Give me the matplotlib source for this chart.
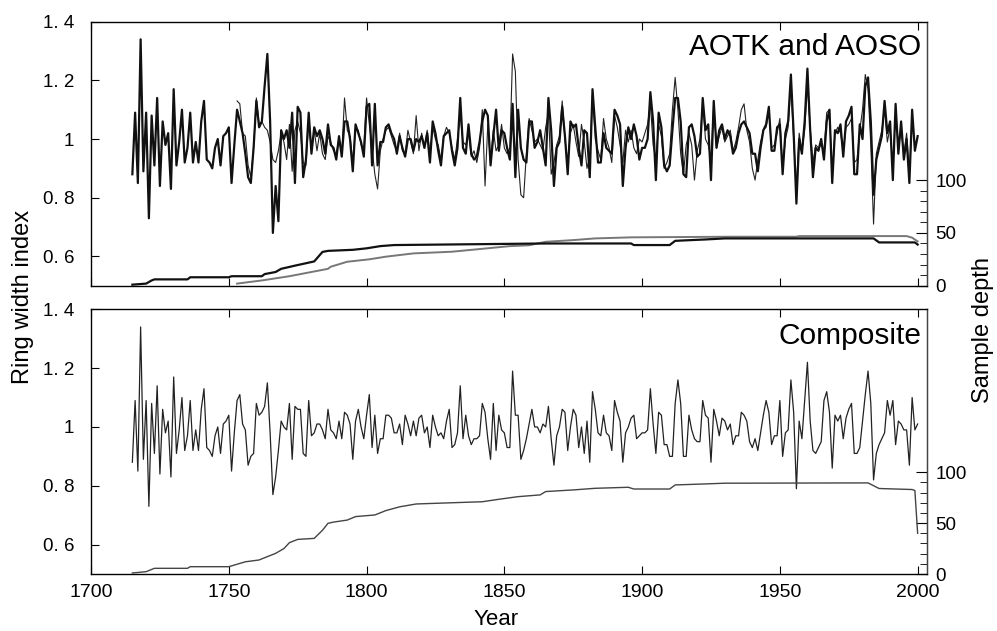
import numpy as np
import matplotlib.pyplot as plt
from matplotlib.ticker import FixedLocator

# ---- ring width index (1715-2000) ----
first_year = 1715
composite = [
    0.88, 1.09, 0.85, 1.34, 0.89, 1.09, 0.73, 1.08, 0.91, 1.14,
    0.84, 1.06, 0.98, 1.02, 0.83, 1.17, 0.91, 0.99, 1.10, 0.92,
    0.97, 1.09, 0.92, 0.99, 0.92, 1.06, 1.13, 0.93, 0.92, 0.90,
    0.97, 1.00, 0.91, 1.01, 1.02, 1.04, 0.85, 0.98, 1.09, 1.11,
    1.01, 0.99, 0.87, 0.90, 0.91, 1.08, 1.04, 1.05, 1.07, 1.15,
    0.98, 0.77, 0.83, 0.92, 1.02, 1.00, 0.99, 1.08, 0.89, 1.07,
    1.06, 1.06, 0.91, 0.90, 1.09, 0.97, 0.98, 1.01, 1.01, 0.99,
    0.96, 1.06, 0.99, 0.98, 0.96, 1.02, 0.96, 1.05, 1.04, 1.01,
    0.89, 1.02, 1.06, 1.00, 0.96, 1.04, 1.11, 0.93, 1.04, 0.91,
    0.96, 0.96, 1.04, 1.04, 1.03, 0.98, 0.98, 1.01, 0.94, 1.04,
    1.01, 0.97, 1.02, 0.97, 1.03, 1.04, 0.98, 1.00, 0.93, 1.04,
    1.00, 0.97, 0.98, 0.96, 1.02, 1.06, 0.93, 0.94, 0.98, 1.14,
    0.96, 1.04, 0.97, 0.94, 0.96, 0.96, 0.97, 1.08, 1.05, 0.96,
    0.89, 1.08, 0.92, 1.04, 0.99, 0.98, 0.93, 0.93, 1.19, 1.04,
    1.04, 0.89, 0.92, 0.96, 1.01, 1.06, 1.00, 1.00, 0.98, 1.01,
    1.00, 1.07, 0.96, 0.87, 0.97, 1.00, 1.06, 1.05, 0.92, 1.00,
    1.06, 1.04, 0.93, 1.00, 0.91, 1.02, 0.88, 1.12, 1.06, 0.98,
    0.97, 1.04, 0.98, 0.97, 0.92, 1.09, 1.05, 1.02, 0.88, 0.98,
    1.00, 1.03, 1.04, 0.96, 0.97, 0.98, 0.98, 0.99, 1.13, 1.01,
    0.91, 1.05, 1.04, 0.94, 0.94, 0.90, 0.90, 1.08, 1.16, 1.08,
    0.90, 0.90, 1.04, 0.99, 0.96, 0.95, 0.95, 1.09, 1.04, 1.03,
    0.88, 1.06, 1.02, 0.97, 1.03, 1.02, 0.99, 1.01, 0.94, 0.97,
    0.97, 1.05, 1.04, 1.02, 0.95, 0.93, 0.96, 0.92, 0.98, 1.04,
    1.09, 1.05, 0.94, 0.97, 0.97, 1.09, 0.90, 0.98, 0.99, 1.16,
    1.05, 0.79, 1.02, 0.96, 1.09, 1.22, 1.02, 0.92, 0.91, 0.93,
    0.95, 1.09, 1.12, 1.05, 0.86, 1.04, 1.02, 1.04, 0.96, 1.03,
    1.06, 1.08, 0.91, 0.91, 0.93, 1.02, 1.11, 1.19, 1.08, 0.82,
    0.91, 0.94, 0.96, 0.98, 1.09, 1.04, 1.09, 0.94, 1.02, 1.01,
    0.99, 0.99, 0.87, 1.10, 0.99, 1.01,
]

# thick line in the upper panel (1715-2000)
aotk = [
    0.88, 1.09, 0.85, 1.34, 0.89, 1.09, 0.73, 1.08, 0.91, 1.14,
    0.84, 1.06, 0.98, 1.02, 0.83, 1.17, 0.91, 0.99, 1.10, 0.92,
    0.97, 1.09, 0.92, 0.99, 0.92, 1.06, 1.13, 0.93, 0.92, 0.90,
    0.97, 1.00, 0.91, 1.01, 1.02, 1.04, 0.85, 0.98,
    1.10, 1.06, 1.02, 0.95, 0.87, 0.85, 0.97, 1.13, 1.04, 1.06,
    1.18, 1.29, 1.06, 0.68, 0.84, 0.72, 1.03, 1.00, 1.03, 0.97,
    1.09, 0.85, 1.11, 1.09, 0.87, 0.93, 1.09, 0.95, 1.04, 1.01,
    1.03, 1.00, 0.95, 1.05, 0.98, 0.97, 0.93, 1.01, 0.94, 1.06,
    1.06, 1.00, 0.89, 1.05, 1.02, 0.99, 0.94, 1.11, 1.12, 0.91,
    1.12, 0.91, 0.99, 0.99, 1.04, 1.05, 1.02, 1.00, 0.95, 1.01,
    0.97, 0.94, 1.00, 1.00, 0.96, 1.00, 0.99, 1.01, 0.97, 1.02,
    0.92, 1.06, 1.02, 0.96, 0.91, 1.01, 1.02, 1.03, 0.96, 0.91,
    0.97, 1.14, 0.97, 0.95, 1.05, 0.95, 0.93, 0.94, 0.99, 1.06,
    1.10, 1.08, 0.91, 1.01, 1.10, 0.96, 1.03, 1.02, 0.97, 0.93,
    1.12, 0.87, 1.10, 0.97, 0.93, 0.92, 1.06, 1.06, 0.97, 0.99,
    1.03, 0.97, 0.91, 1.14, 1.03, 0.84, 0.97, 0.99, 1.11, 1.01,
    0.88, 1.06, 1.04, 1.05, 0.97, 0.91, 1.03, 1.02, 0.87, 1.17,
    1.04, 0.92, 0.92, 1.02, 0.97, 0.96, 0.95, 1.10, 1.08, 1.05,
    0.84, 0.97, 1.04, 1.00, 1.05, 1.01, 0.93, 0.97, 0.97, 1.00,
    1.16, 1.06, 0.86, 1.09, 1.04, 0.91, 0.89, 0.91, 1.03, 1.14,
    1.14, 1.06, 0.88, 0.87, 1.04, 1.05, 1.01, 0.94, 0.95, 1.14,
    1.03, 1.05, 0.86, 1.13, 0.97, 1.03, 1.05, 1.00, 1.03, 1.01,
    0.95, 0.97, 1.02, 1.05, 1.06, 1.04, 1.02, 0.95, 0.95, 0.89,
    0.97, 1.03, 1.05, 1.11, 0.96, 0.96, 1.04, 1.05, 0.88, 1.02,
    1.06, 1.22, 1.02, 0.78, 1.00, 0.95, 1.06, 1.24, 1.03, 0.87,
    0.97, 0.96, 1.00, 0.93, 1.06, 1.10, 0.85, 1.03, 1.02, 1.05,
    0.94, 1.06, 1.08, 1.11, 0.88, 0.88, 1.05, 1.00, 1.18, 1.21,
    1.06, 0.81, 0.93, 0.97, 1.01, 1.13, 1.02, 1.06, 0.86, 1.12,
    0.95, 1.06, 0.93, 1.00, 0.85, 1.10, 0.96, 1.01,
]

# thin line in the upper panel (1753-2000)
aoso_first_year = 1753
aoso = [
    1.13, 1.12, 1.02, 1.01, 0.91, 0.87, 0.97, 1.14, 1.05, 1.06,
    1.04, 1.03, 0.99, 0.93, 0.92, 0.96, 1.02, 0.99, 0.93, 1.05,
    0.89, 1.03, 1.06, 1.02, 0.92, 0.91, 1.06, 0.96, 1.03, 0.96,
    1.02, 0.95, 0.93, 1.01, 0.99, 0.96, 0.95, 1.00, 0.95, 1.14,
    1.03, 1.01, 0.92, 1.04, 1.03, 0.98, 0.97, 1.14, 1.05, 0.97,
    0.88, 0.83, 0.96, 1.00, 1.03, 1.04, 1.01, 0.98, 0.96, 1.02,
    0.96, 0.95, 1.03, 0.99, 0.95, 1.08, 0.96, 1.02, 0.97, 1.03,
    0.95, 1.04, 1.00, 0.98, 0.93, 1.01, 1.04, 1.02, 0.97, 0.93,
    1.00, 1.08, 0.99, 0.98, 1.02, 0.94, 0.96, 0.92, 0.97, 1.10,
    0.84, 1.05, 0.92, 1.03, 0.96, 0.98, 1.05, 0.97, 0.95, 0.97,
    1.29, 1.23, 0.93, 0.81, 0.80, 0.95, 1.07, 1.03, 0.99, 1.00,
    0.98, 0.96, 1.04, 1.09, 0.88, 0.92, 0.98, 1.01, 1.13, 1.00,
    0.92, 1.02, 1.05, 0.99, 0.94, 1.05, 0.99, 0.90, 0.94, 1.15,
    1.00, 0.96, 0.93, 1.07, 1.00, 0.97, 0.92, 1.08, 1.04, 0.98,
    0.92, 1.03, 0.99, 1.03, 0.97, 0.95, 1.00, 0.99, 1.02, 1.05,
    1.12, 0.98, 0.93, 1.05, 1.01, 0.90, 0.92, 0.95, 1.10, 1.21,
    1.10, 0.95, 0.88, 0.98, 1.02, 0.98, 0.86, 0.96, 1.00, 1.12,
    1.00, 0.98, 0.93, 1.12, 0.97, 1.01, 1.04, 0.99, 1.01, 1.03,
    0.96, 0.99, 1.04, 1.10, 1.12, 1.03, 0.99, 0.90, 0.86, 0.93,
    0.99, 1.03, 1.04, 1.09, 0.97, 0.98, 1.02, 1.07, 0.90, 1.00,
    1.04, 1.18, 1.00, 0.83, 1.02, 0.96, 1.03, 1.18, 1.04, 0.92,
    0.98, 0.97, 0.98, 0.96, 1.09, 1.10, 0.87, 1.02, 1.04, 1.02,
    0.96, 1.04, 1.05, 1.07, 0.92, 0.93, 1.03, 1.10, 1.22, 1.17,
    0.98, 0.71, 0.95, 0.99, 1.03, 1.10, 0.99, 1.04, 0.90, 1.10,
    0.97, 1.03, 0.95, 1.02, 0.88, 1.06, 0.98, 1.00,
]

# ---- sample depth, breakpoints (year, number of series) ----
depth_aotk_years = [1715, 1720, 1722, 1723, 1735, 1736, 1750, 1751, 1762, 1763, 1767, 1769,
                    1774, 1781, 1784, 1786, 1795, 1800, 1805, 1810, 1865, 1896, 1897, 1910,
                    1912, 1923, 1930, 1984, 1986, 1999, 2000]
depth_aotk = [1, 2, 5, 6, 6, 8, 8, 9, 9, 11, 13, 16,
              19, 23, 32, 33, 34, 35.4, 37.5, 38.5, 40, 40, 38.5, 38.5,
              42.5, 43.8, 44.8, 44.8, 41, 41, 39]

depth_aoso_years = [1753, 1762, 1772, 1780, 1786, 1787, 1793, 1801, 1807, 1817, 1831, 1841,
                    1852, 1859, 1865, 1875, 1883, 1896, 1932, 1956, 1957, 1996, 1998, 2000]
depth_aoso = [2, 5, 9, 13, 16, 18, 22.7, 25, 27.5, 30.6, 32.2, 34.7,
              37.5, 38.3, 41.6, 43.2, 44.8, 45.8, 46.4, 46.4, 47, 47, 45.5, 42]

depth_comp_years = [1715, 1720, 1723, 1735, 1736, 1750, 1752, 1756, 1761, 1763, 1767, 1770,
                    1772, 1775, 1781, 1784, 1786, 1788, 1793, 1796, 1803, 1807, 1812, 1818,
                    1831, 1842, 1848, 1855, 1863, 1865, 1875, 1883, 1895, 1897, 1910, 1912,
                    1923, 1930, 1982, 1986, 1998, 1999, 2000]
depth_comp = [1, 2.3, 5.6, 5.6, 7.2, 7.2, 8.8, 12, 13.8, 16, 20.3, 25,
              30.8, 34, 35, 43, 49.8, 51, 53, 56.4, 58, 62.3, 66, 68.8,
              70, 71, 73.4, 76, 77.7, 81, 82.6, 84.2, 85.2, 83.5, 83.5, 87.5,
              88.5, 89.2, 89.5, 84, 83, 82, 40]

ytick_vals = [0.6, 0.8, 1.0, 1.2, 1.4]
ytick_text = ['0. 6', '0. 8', '1', '1. 2', '1. 4']
xtick_vals = [1700, 1750, 1800, 1850, 1900, 1950, 2000]

plt.rcParams['font.family'] = ['Liberation Sans', 'DejaVu Sans']

years = np.arange(first_year, first_year + len(composite))
years_aoso = np.arange(aoso_first_year, aoso_first_year + len(aoso))

fig = plt.figure(figsize=(9.97, 6.31), dpi=100)
ax1 = fig.add_axes([0.0913, 0.5472, 0.8385, 0.4184])
ax2 = fig.add_axes([0.0913, 0.0903, 0.8385, 0.4195])


def style_axes(ax, depth_top):
    ax.set_xlim(1700, 2003.4)
    ax.set_ylim(0.5, 1.4)
    ax.set_yticks(ytick_vals)
    ax.set_yticklabels(ytick_text, fontsize=13.5)
    ax.set_xticks(xtick_vals)
    ax.tick_params(axis='both', direction='in', length=6, width=0.8,
                   top=True, bottom=True)
    ax.tick_params(axis='y', pad=12)
    for s in ax.spines.values():
        s.set_linewidth(1.0)
        s.set_color('#444444')
    tw = ax.twinx()
    tw.set_ylim(0, depth_top)
    tw.yaxis.set_major_locator(FixedLocator([0, 50, 100]))
    tw.yaxis.set_minor_locator(FixedLocator(list(range(10, 100, 10))))
    tw.tick_params(axis='y', which='major', direction='in', length=8, labelsize=13.5, pad=6)
    tw.tick_params(axis='y', which='minor', direction='in', length=5)
    tw.spines['right'].set_color('#444444')
    return tw


tw1 = style_axes(ax1, 250)
tw2 = style_axes(ax2, 260)

# upper panel
ax1.plot(years_aoso, aoso, color='#222222', lw=0.8, zorder=3)
ax1.plot(years, aotk, color='#111111', lw=1.6, zorder=4)
tw1.plot(depth_aoso_years, depth_aoso, color='#777777', lw=1.4)
tw1.plot(depth_aotk_years, depth_aotk, color='#111111', lw=1.6)
ax1.text(0.993, 0.905, 'AOTK and AOSO', transform=ax1.transAxes,
         ha='right', va='center', fontsize=21.5)
ax1.tick_params(axis='x', labelbottom=False)

# lower panel
ax2.plot(years, composite, color='#222222', lw=0.9, zorder=3)
tw2.plot(depth_comp_years, depth_comp, color='#444444', lw=1.0)
ax2.text(0.993, 0.90, 'Composite', transform=ax2.transAxes,
         ha='right', va='center', fontsize=21.5)
ax2.set_xticklabels([str(x) for x in xtick_vals], fontsize=14)
ax2.tick_params(axis='x', pad=7)

fig.text(0.498, 0.018, 'Year', ha='center', va='center', fontsize=16)
fig.text(0.023, 0.529, 'Ring width index', rotation=90, ha='center', va='center', fontsize=17)
fig.text(0.986, 0.477, 'Sample depth', rotation=90, ha='center', va='center', fontsize=17)

fig.savefig('out.png', dpi=100)
